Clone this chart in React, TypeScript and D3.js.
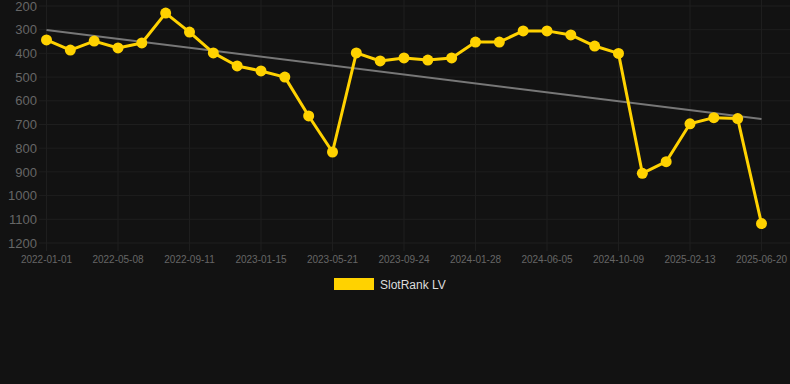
import React, { useRef, useEffect } from "react";
import * as d3 from "d3";

// rank values, one every ~42 days (lower is better, axis is reversed)
const rankValues = [
  343, 386, 348, 377, 356, 230, 310, 398, 453, 474, 500, 664, 816, 398, 432, 419,
  428, 419, 352, 352, 305, 305, 322, 369, 400, 906, 857, 697, 671, 675, 1118,
];

// every third point gets a date label
const tickLabels = [
  "2022-01-01", "2022-05-08", "2022-09-11", "2023-01-15", "2023-05-21", "2023-09-24",
  "2024-01-28", "2024-06-05", "2024-10-09", "2025-02-13", "2025-06-20",
];

const yTicks = [200, 300, 400, 500, 600, 700, 800, 900, 1000, 1100, 1200];

// trend line start and end values
const trendValues = [301, 677];

const seriesName = "SlotRank LV";

const App = () => {
  const svgRef = useRef<SVGSVGElement>(null);

  useEffect(() => {
    const svg = d3.select(svgRef.current);
    svg.selectAll("*").remove();

    const width = 790;
    const height = 384;
    const gold = "#ffd200";
    const gridColor = "#1e1e1e";

    svg.attr("width", width).attr("height", height);

    svg.append("rect").attr("width", width).attr("height", height).attr("fill", "#121212");

    const x = d3
      .scalePoint<number>()
      .domain(rankValues.map((_, i) => i))
      .range([46.5, 761.5]);

    const y = d3.scaleLinear().domain([200, 1200]).range([6, 243]);

    // horizontal grid + y labels
    svg
      .selectAll("line.hgrid")
      .data(yTicks)
      .join("line")
      .attr("class", "hgrid")
      .attr("x1", 39)
      .attr("x2", width)
      .attr("y1", d => y(d))
      .attr("y2", d => y(d))
      .attr("stroke", gridColor)
      .attr("stroke-width", 1);

    svg
      .selectAll("text.ylab")
      .data(yTicks)
      .join("text")
      .attr("class", "ylab")
      .attr("x", 37)
      .attr("y", d => y(d))
      .attr("dy", "0.36em")
      .attr("text-anchor", "end")
      .attr("fill", "#666666")
      .style("font-family", "Arial, 'Liberation Sans', sans-serif")
      .style("font-size", "13px")
      .text(d => d);

    // vertical grid + x labels
    const tickIdx = tickLabels.map((_, i) => i * 3);

    svg
      .selectAll("line.vgrid")
      .data(tickIdx)
      .join("line")
      .attr("class", "vgrid")
      .attr("x1", d => x(d)!)
      .attr("x2", d => x(d)!)
      .attr("y1", 0)
      .attr("y2", 251)
      .attr("stroke", gridColor)
      .attr("stroke-width", 1);

    svg
      .selectAll("text.xlab")
      .data(tickLabels)
      .join("text")
      .attr("class", "xlab")
      .attr("x", (_, i) => x(i * 3)!)
      .attr("y", 263)
      .attr("text-anchor", "middle")
      .attr("fill", "#666666")
      .style("font-family", "Arial, 'Liberation Sans', sans-serif")
      .style("font-size", "10px")
      .text(d => d);

    // trend line
    svg
      .append("line")
      .attr("x1", x(0)!)
      .attr("x2", x(rankValues.length - 1)!)
      .attr("y1", y(trendValues[0]))
      .attr("y2", y(trendValues[1]))
      .attr("stroke", "#777777")
      .attr("stroke-width", 2);

    // series line
    const line = d3
      .line<number>()
      .x((_, i) => x(i)!)
      .y(d => y(d));

    svg
      .append("path")
      .datum(rankValues)
      .attr("d", line)
      .attr("fill", "none")
      .attr("stroke", gold)
      .attr("stroke-width", 3)
      .attr("stroke-linejoin", "round");

    svg
      .selectAll("circle.pt")
      .data(rankValues)
      .join("circle")
      .attr("class", "pt")
      .attr("cx", (_, i) => x(i)!)
      .attr("cy", d => y(d))
      .attr("r", 5.5)
      .attr("fill", gold);

    // legend
    svg
      .append("rect")
      .attr("x", 334)
      .attr("y", 278)
      .attr("width", 40)
      .attr("height", 12)
      .attr("fill", gold);

    svg
      .append("text")
      .attr("x", 380)
      .attr("y", 288.5)
      .attr("fill", "#dddddd")
      .style("font-family", "Arial, 'Liberation Sans', sans-serif")
      .style("font-size", "12px")
      .text(seriesName);
  }, []);

  return <svg ref={svgRef} style={{ position: "absolute", left: 0, top: 0 }} />;
};

export default App;
